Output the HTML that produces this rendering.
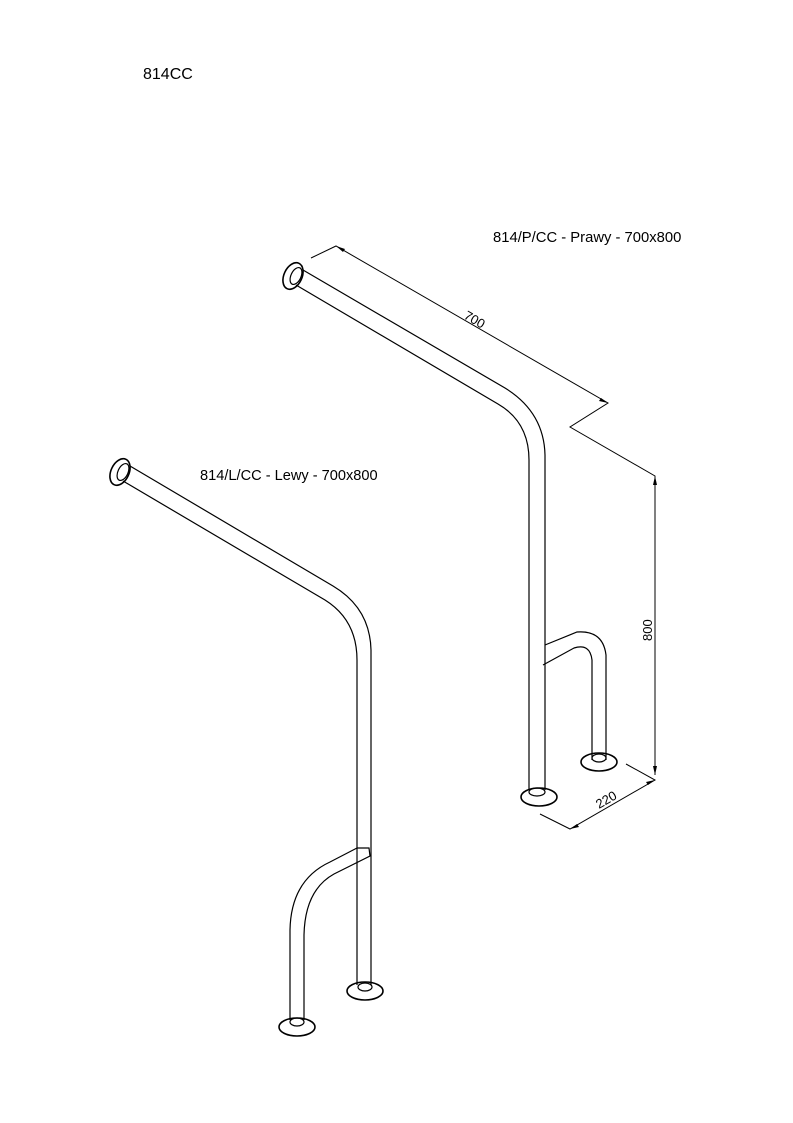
<!DOCTYPE html>
<html><head><meta charset="utf-8"><style>
html,body{margin:0;padding:0;background:#fff}
svg{display:block}
text{font-family:"Liberation Sans",sans-serif;fill:#000}
</style></head><body>
<svg width="793" height="1123" viewBox="0 0 793 1123" xmlns="http://www.w3.org/2000/svg">
<text x="143" y="79" font-size="16">814CC</text>
<text x="493" y="242" font-size="14.8">814/P/CC - Prawy - 700x800</text>
<text x="200" y="480" font-size="14.6">814/L/CC - Lewy - 700x800</text>
<g fill="none" stroke="#000" stroke-width="1.2">
<ellipse cx="293" cy="276" rx="9" ry="14" transform="rotate(25 293 276)" stroke-width="1.6"/>
<ellipse cx="296" cy="276" rx="5" ry="9" transform="rotate(25 296 276)"/>
<path d="M303 270 L505 388 Q544 412 545 455 L545 790"/>
<path d="M296 285 L498 404 Q529 422 529 460 L529 790"/>
<ellipse cx="539" cy="797" rx="18" ry="9" stroke-width="1.6"/>
<ellipse cx="537" cy="792" rx="8" ry="4"/>
<path d="M545 645 L577 632 Q603 630 606 655 L606 760"/>
<path d="M543 665 L574 648 Q590 643 592 660 L592 760"/>
<ellipse cx="599" cy="762" rx="18" ry="9" stroke-width="1.6"/>
<ellipse cx="599" cy="758" rx="7" ry="4"/>
<ellipse cx="120" cy="472" rx="9" ry="14" transform="rotate(25 120 472)" stroke-width="1.6"/>
<ellipse cx="123" cy="472" rx="5" ry="9" transform="rotate(25 123 472)"/>
<path d="M130 466 L333 586 Q370 608 371 650 L371 985"/>
<path d="M123 481 L325 600 Q357 620 357 660 L357 985"/>
<ellipse cx="365" cy="991" rx="18" ry="9" stroke-width="1.6"/>
<ellipse cx="365" cy="987" rx="7" ry="4"/>
<path d="M357 848 L369 848 L370 856 L334 874 Q305 890 304 935 L304 1020"/>
<path d="M357 848 L330 862 Q291 880 290 930 L290 1020"/>
<ellipse cx="297" cy="1027" rx="18" ry="9" stroke-width="1.6"/>
<ellipse cx="297" cy="1022" rx="7" ry="4"/>
</g>
<g fill="none" stroke="#000" stroke-width="1">
<path d="M311 258 L336 246 L608 403 L570 427 L655 476 L655 775"/>
<path d="M626 764 L655 780 L570 829 L540 814"/>
</g>
<g fill="#000">
<path d="M336 246 l9 3 l-2 3 z"/>
<path d="M608 403 l-9 -2 l2 -3 z"/>
<path d="M655 476 l-2 9 l4 0 z"/>
<path d="M655 775 l-2 -9 l4 0 z"/>
<path d="M655 780 l-9 2 l2 3 z"/>
<path d="M570 829 l9 -2 l-2 -3 z"/>
</g>
<text x="0" y="0" font-size="13" transform="translate(463 318) rotate(30)">700</text>
<text x="0" y="0" font-size="13" transform="translate(652 641) rotate(-90)">800</text>
<text x="0" y="0" font-size="13" transform="translate(599 809) rotate(-30)">220</text>
</svg>
</body></html>
